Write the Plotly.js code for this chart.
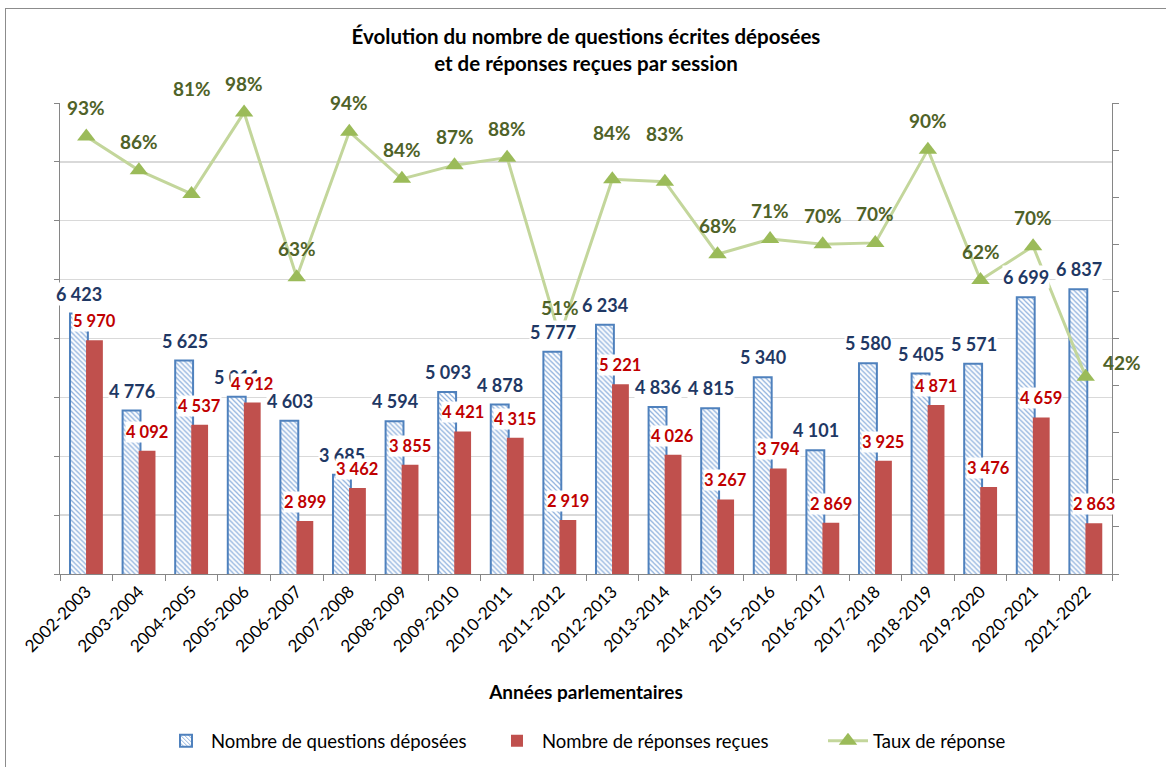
<!DOCTYPE html>
<html>
<head>
<meta charset="utf-8">
<script src="https://cdn.plot.ly/plotly-3.0.1.min.js"></script>
<style>
  html, body { margin: 0; padding: 0; background: #fff; }
  #chart { width: 1166px; height: 767px; }
  #frame { position: absolute; left: 5px; top: 8px; width: 1200px; height: 800px;
           border-left: 1px solid #8c8c8c; border-top: 1px solid #8c8c8c; pointer-events: none; }
</style>
</head>
<body>
<div id="chart"></div>
<div id="frame"></div>
<script>
// ---- Data ----
const years = ['2002-2003','2003-2004','2004-2005','2005-2006','2006-2007','2007-2008','2008-2009',
  '2009-2010','2010-2011','2011-2012','2012-2013','2013-2014','2014-2015','2015-2016','2016-2017',
  '2017-2018','2018-2019','2019-2020','2020-2021','2021-2022'];
const questions = [6423,4776,5625,5011,4603,3685,4594,5093,4878,5777,6234,4836,4815,5340,4101,5580,5405,5571,6699,6837];
const responses = [5970,4092,4537,4912,2899,3462,3855,4421,4315,2919,5221,4026,3267,3794,2869,3925,4871,3476,4659,2863];
const rates = [0.929,0.857,0.807,0.980,0.630,0.939,0.839,0.868,0.884,0.505,0.838,0.833,0.679,0.711,0.700,0.703,0.901,0.624,0.696,0.419];

const seriesNames = ['Nombre de questions déposées','Nombre de réponses reçues','Taux de réponse'];

// ---- label placement tweaks (pixels) ----
const pctDefaultLift = 29;
const pctLiftOverride = {2: 105, 10: 47, 11: 48};
const pctRightSide = {19: {dx: 36, dy: 14}};

const FONT = 'Lato, "Open Sans", sans-serif';
const fmt = v => String(v).replace(/\B(?=(\d{3})+(?!\d))/g, ' ');

const traceQ = {
  type: 'bar', name: seriesNames[0], x: years, y: questions,
  width: 0.34, offset: -0.31,
  marker: { color: '#ffffff', line: { color: '#4F81BD', width: 2 },
            pattern: { shape: '\\', fgcolor: '#8DB0DD', bgcolor: '#ffffff', size: 3.5, solidity: 0.35 } },
  hoverinfo: 'skip'
};
const traceR = {
  type: 'bar', name: seriesNames[1], x: years, y: responses,
  width: 0.32, offset: -0.005,
  marker: { color: '#C0504D', line: { width: 0 } },
  hoverinfo: 'skip'
};
const traceT = {
  type: 'scatter', mode: 'lines+markers', name: seriesNames[2], x: years, y: rates, yaxis: 'y2',
  line: { color: '#C3D69B', width: 3 },
  marker: { symbol: 'triangle-up', size: 16, color: '#9BBB59' },
  hoverinfo: 'skip'
};

const annotations = [];
years.forEach((yr, i) => {
  annotations.push({ x: yr, y: questions[i], xref: 'x', yref: 'y', text: fmt(questions[i]),
    showarrow: false, xshift: -7, yshift: 20, bgcolor: '#ffffff', borderpad: 0,
    font: { family: FONT, size: 18, color: '#1F3864', weight: 700 } });
  annotations.push({ x: yr, y: responses[i], xref: 'x', yref: 'y', text: fmt(responses[i]),
    showarrow: false, xshift: 8, yshift: 19, bgcolor: '#ffffff', borderpad: 0,
    font: { family: FONT, size: 16.5, color: '#C00000', weight: 700 } });
  const side = pctRightSide[i];
  annotations.push({ x: yr, y: rates[i], xref: 'x', yref: 'y2', text: Math.round(rates[i]*100) + '%',
    showarrow: false,
    xshift: side ? side.dx : 0,
    yshift: side ? side.dy : (pctLiftOverride[i] !== undefined ? pctLiftOverride[i] : pctDefaultLift),
    font: { family: FONT, size: 19, color: '#4F6228', weight: 700 } });
});

const layout = {
  width: 1166, height: 767,
  margin: { l: 60, r: 54, t: 103, b: 193, pad: 0, autoexpand: false },
  paper_bgcolor: '#ffffff', plot_bgcolor: '#ffffff',
  font: { family: FONT, color: '#000000' },
  title: { text: '<b>Évolution du nombre de questions écrites déposées<br>et de réponses reçues par session</b>',
           font: { family: FONT, size: 20.5, color: '#000000' }, x: 0.5, xref: 'paper', xanchor: 'center',
           y: 1 - 44/767, yref: 'container', yanchor: 'middle' },
  barmode: 'group',
  showlegend: true,
  legend: { orientation: 'h', x: 0.096, xanchor: 'left', y: -0.355, yanchor: 'middle',
            entrywidth: 276, entrywidthmode: 'pixels',
            font: { family: FONT, size: 18.5, color: '#000000' }, itemwidth: 40, traceorder: 'normal' },
  xaxis: { type: 'category', range: [-0.5, 19.5], tickson: 'boundaries', ticks: 'outside', ticklen: 6, tickcolor: '#868686',
           showline: true, linecolor: '#868686', linewidth: 1, showgrid: false, tickangle: -45,
           tickfont: { family: FONT, size: 17, color: '#000000' },
           title: { text: '<b>Années parlementaires</b>', font: { family: FONT, size: 19, color: '#000000' }, standoff: 30 } },
  yaxis: { range: [2000, 10000], dtick: 1000, showticklabels: false, ticks: 'outside', ticklen: 5,
           tickcolor: '#868686', showline: true, linecolor: '#868686', showgrid: true, gridcolor: '#D9D9D9',
           gridwidth: 1.3, zeroline: false },
  yaxis2: { overlaying: 'y', side: 'right', range: [0, 1], dtick: 0.1, showticklabels: false, ticks: 'outside',
            ticklen: 6, tickcolor: '#868686', showline: true, linecolor: '#868686', showgrid: false, zeroline: false },
  annotations: annotations
};

Plotly.newPlot('chart', [traceQ, traceR, traceT], layout, { displayModeBar: false, staticPlot: true });
</script>
</body>
</html>
